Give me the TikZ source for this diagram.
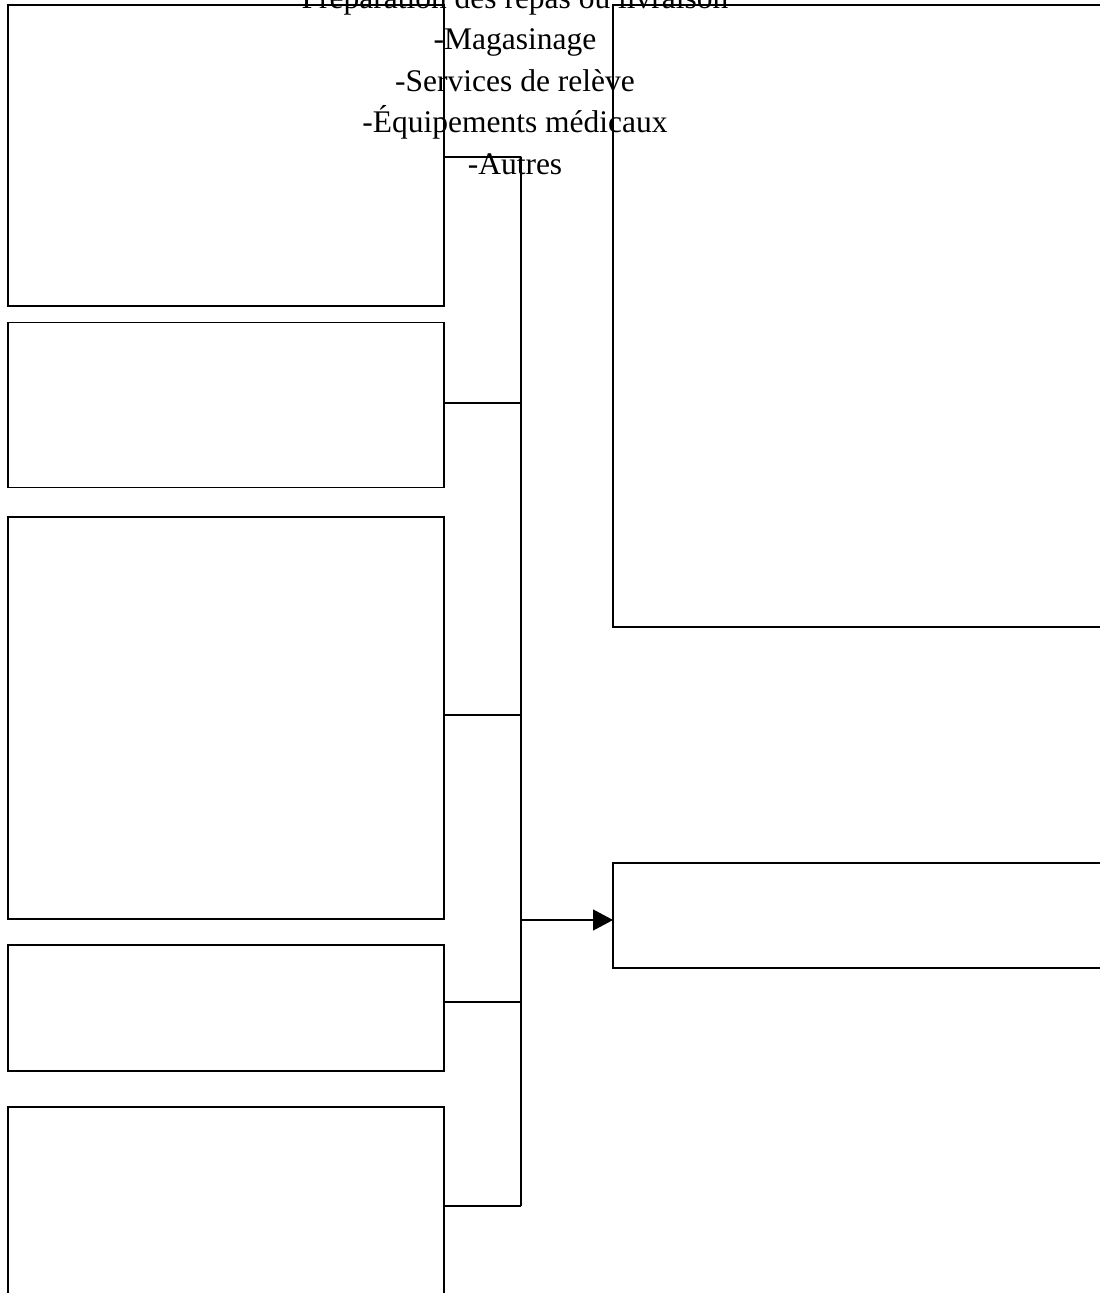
\documentclass[tikz,border=0pt]{standalone}
\usepackage{fontspec}
\setmainfont{Liberation Serif}
\usetikzlibrary{arrows.meta}
\begin{document}
\begin{tikzpicture}[x=1pt,y=-1pt,
  box/.style={draw=black,line width=1.3pt,inner sep=0pt,outer sep=0pt,rectangle},
  conn/.style={draw=black,line width=1.3pt},
  lbl/.style={inner sep=0pt,anchor=base,font=\fontsize{31.5pt}{41.5pt}\selectfont}]
\useasboundingbox (0,0) rectangle (1100,1293);
\clip (0,0) rectangle (1100,1293);
% left boxes
\node[box,minimum width=436pt,minimum height=301pt] (b1) at (226,155.5) {};
\node[box,minimum width=436pt,minimum height=165pt] (b2) at (226,405) {};
\node[box,minimum width=436pt,minimum height=402pt] (b3) at (226,718) {};
\node[box,minimum width=436pt,minimum height=126pt] (b4) at (226,1008) {};
\node[box,minimum width=436pt,minimum height=198pt] (b5) at (226,1206) {};
% right boxes
\node[box,minimum width=540pt,minimum height=622pt] (r1) at (883,316) {};
\node[box,minimum width=540pt,minimum height=105pt] (r2) at (883,915.5) {};
% bus
\coordinate (bus) at (521,0);
\coordinate (bustop) at (521,157);
\coordinate (busbot) at (521,1206);
\draw[conn] (bustop) -- (busbot);
\draw[conn] ([yshift=-1.5pt]b1.east) -- ([yshift=-1.5pt]b1.east -| bus);
\draw[conn] ([yshift=2pt]b2.east) -- ([yshift=2pt]b2.east -| bus);
\draw[conn] ([yshift=3pt]b3.east) -- ([yshift=3pt]b3.east -| bus);
\draw[conn] ([yshift=6pt]b4.east) -- ([yshift=6pt]b4.east -| bus);
\draw[conn] (b5.east) -- (b5.east -| bus);
\coordinate (arrin) at ([yshift=-4.5pt]r2.west);
\draw[conn,-{Triangle[length=20pt,width=21pt]}] (arrin -| bus) -- (arrin);
% text
\node[lbl] (t1) at (515,8) {Préparation des repas ou livraison};
\node[lbl] (t2) at (515,49.5) {-Magasinage};
\node[lbl] (t3) at (515,91) {-Services de relève};
\node[lbl] (t4) at (515,132.5) {-Équipements médicaux};
\node[lbl] (t5) at (515,174) {-Autres};
\end{tikzpicture}
\end{document}
